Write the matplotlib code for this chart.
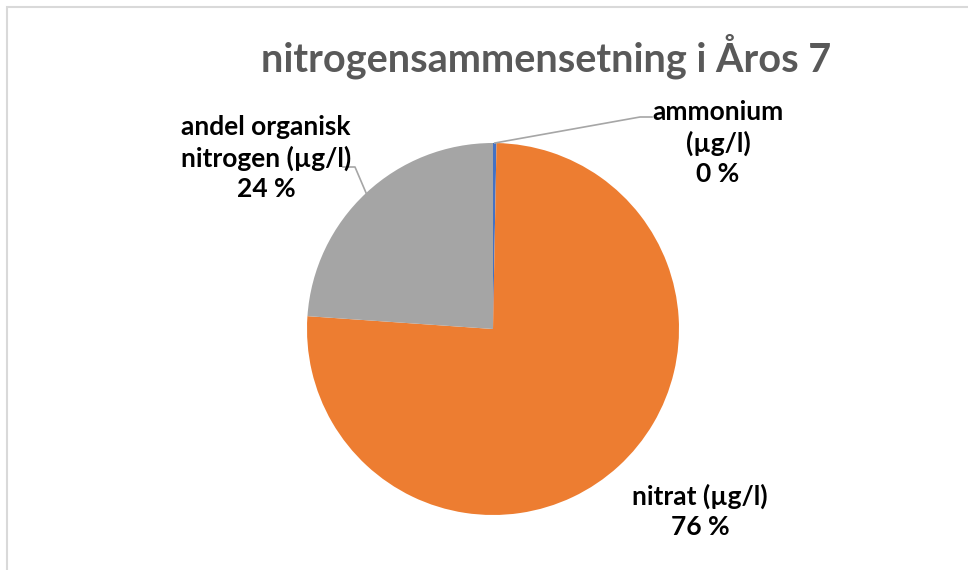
import numpy as np
import matplotlib
matplotlib.use("Agg")
import matplotlib.pyplot as plt
from matplotlib.patches import Rectangle

plt.rcParams['font.family'] = ['Lato', 'DejaVu Sans']

# Nitrogen composition (share of total, %)
categories = ["ammonium\n(µg/l)", "nitrat (µg/l)", "andel organisk\nnitrogen (µg/l)"]
values = [0.3, 75.8, 23.9]
colors = ["#4472C4", "#ED7D31", "#A5A5A5"]
title = "nitrogensammensetning i Åros 7"

W, H = 968, 570
fig = plt.figure(figsize=(W / 100, H / 100), dpi=100)
ax = fig.add_axes([0, 0, 1, 1])

cx, cy, r = 493, 241, 186
wedges, _ = ax.pie(values, colors=colors, startangle=90, counterclock=False,
                   center=(cx, cy), radius=r, frame=True,
                   wedgeprops=dict(edgecolor="white", linewidth=0.0))
ax.set_xlim(0, W)
ax.set_ylim(0, H)
ax.set_aspect("equal")
ax.axis("off")

# chart frame
ax.add_patch(Rectangle((7, -20), W + 20, H - 7 + 20, fill=False,
                       edgecolor="#D9D9D9", linewidth=1.5))

total = sum(values)
pct = [f"{round(v / total * 100)} %" for v in values]

# label centres (x, y from the bottom)
label_pos = [(718, H - 143), (700, H - 511), (266, H - 158)]
fs = 19
for i, (w, (lx, ly)) in enumerate(zip(wedges, label_pos)):
    ax.text(lx, ly, f"{categories[i]}\n{pct[i]}", ha="center", va="center",
            fontsize=fs, fontweight="bold", color="#000000", linespacing=1.3)

# leader lines
def edge_point(w):
    a = np.deg2rad((w.theta1 + w.theta2) / 2)
    return cx + r * np.cos(a), cy + r * np.sin(a)

ex, ey = edge_point(wedges[0])
ax.plot([ex, 640, 652], [ey, H - 117, H - 117], color="#A6A6A6", lw=1.2)
ex, ey = edge_point(wedges[2])
ax.plot([ex, 355, 343], [ey, H - 167, H - 167], color="#A6A6A6", lw=1.2)

ax.text(546, H - 56, title, ha="center", va="center", fontsize=28.5,
        fontweight="bold", color="#595959")

fig.savefig("out.png", dpi=100)
